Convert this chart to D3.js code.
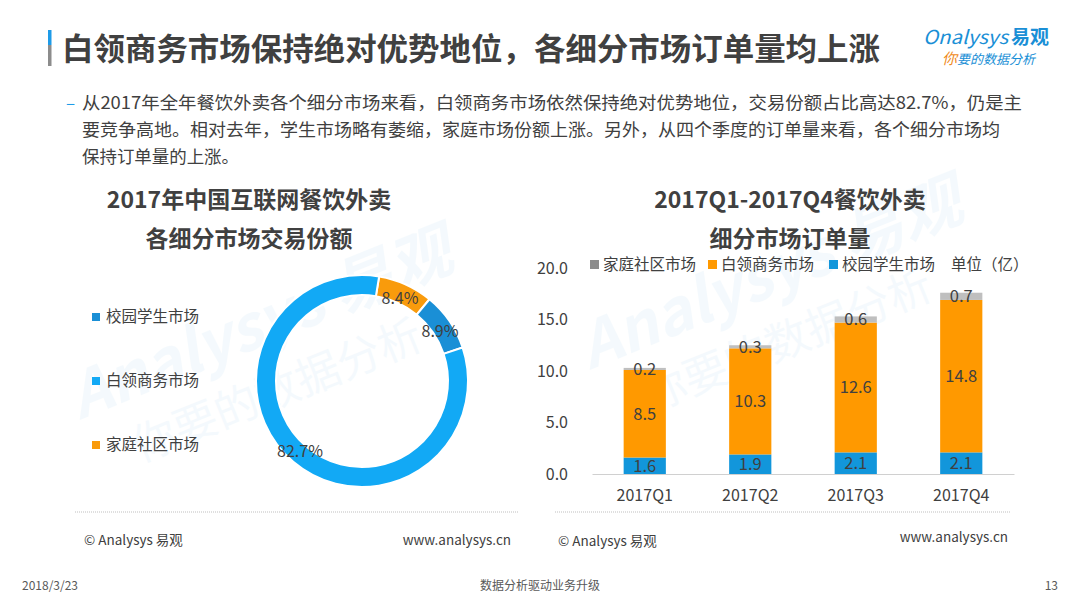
<!DOCTYPE html>
<html>
<head>
<meta charset="utf-8">
<script src="https://cdn.jsdelivr.net/npm/d3@7"></script>
<style>
  body { margin: 0; background: #fff; }
  text { font-family: "Noto Sans CJK SC", "Noto Sans", sans-serif; }
</style>
</head>
<body>
<div id="chart"></div>
<script>
// donut data, 2017 share by segment (drawn clockwise in this order)
var shareNames = ["家庭社区市场", "校园学生市场", "白领商务市场"];
var shareValues = [8.4, 8.9, 82.7];
var legendNames = ["校园学生市场", "白领商务市场", "家庭社区市场"];

// stacked bar data, orders per quarter (亿)
var quarters = ["2017Q1", "2017Q2", "2017Q3", "2017Q4"];
var campus = [1.6, 1.9, 2.1, 2.1];
var office = [8.5, 10.3, 12.6, 14.8];
var family = [0.2, 0.3, 0.6, 0.7];
var yTicks = [0, 5, 10, 15, 20];

var colors = {
  "校园学生市场": "#1a8fd6",
  "白领商务市场": "#12a9f5",
  "家庭社区市场": "#f99b0c"
};
var barColors = { campus: "#1296db", office: "#ff9900", family: "#bfbfbf" };
var textColor = "#404040";

var svg = d3.select("#chart").append("svg")
  .attr("width", 1080)
  .attr("height", 608);

// watermarks
function watermark(x, y) {
  var g = svg.append("g")
    .attr("transform", `translate(${x},${y}) rotate(-22)`)
    .attr("opacity", 0.045);
  g.append("text").attr("x", 0).attr("y", 0)
    .attr("font-size", 62).attr("font-weight", "bold").attr("font-style", "italic")
    .attr("fill", "#1a8fd6").text("Analysys 易观");
  g.append("text").attr("x", 40).attr("y", 62)
    .attr("font-size", 44).attr("fill", "#1a8fd6").text("你要的数据分析");
}
watermark(80, 420);
watermark(590, 370);

// title with the little side bar
svg.append("rect").attr("x", 48).attr("y", 30).attr("width", 3.5).attr("height", 15).attr("fill", "#1e9be8");
svg.append("rect").attr("x", 48).attr("y", 45).attr("width", 3.5).attr("height", 21).attr("fill", "#8c8c8c");
svg.append("text")
  .attr("x", 62).attr("y", 60)
  .attr("font-size", 31).attr("font-weight", "bold")
  .attr("fill", "#404040")
  .attr("textLength", 818).attr("lengthAdjust", "spacingAndGlyphs")
  .text("白领商务市场保持绝对优势地位，各细分市场订单量均上涨");

// logo
svg.append("text").attr("x", 923).attr("y", 44)
  .attr("font-size", 19).attr("font-style", "italic").attr("fill", "#1a8fd6")
  .attr("textLength", 85).attr("lengthAdjust", "spacingAndGlyphs")
  .text("Onalysys");
svg.append("text").attr("x", 1011).attr("y", 44)
  .attr("font-size", 19).attr("font-weight", "bold").attr("fill", "#1a8fd6")
  .text("易观");
var slogan = svg.append("text").attr("x", 942).attr("y", 64)
  .attr("font-size", 13).attr("font-style", "italic");
slogan.append("tspan").attr("fill", "#f08a1c").attr("font-size", 15).text("你");
slogan.append("tspan").attr("fill", "#1a8fd6").text("要的数据分析");

// paragraph
var para = [
  { t: "从2017年全年餐饮外卖各个细分市场来看，白领商务市场依然保持绝对优势地位，交易份额占比高达82.7%，仍是主", w: 940 },
  { t: "要竞争高地。相对去年，学生市场略有萎缩，家庭市场份额上涨。另外，从四个季度的订单量来看，各个细分市场均", w: 918 },
  { t: "保持订单量的上涨。", w: 157 }
];
svg.append("text").attr("x", 66).attr("y", 109)
  .attr("font-size", 17).attr("fill", "#1e9be8").text("–");
svg.selectAll(".para").data(para).enter().append("text")
  .attr("class", "para")
  .attr("x", 82)
  .attr("y", (d, i) => 109 + i * 27)
  .attr("font-size", 17.5)
  .attr("fill", textColor)
  .attr("textLength", d => d.w)
  .attr("lengthAdjust", "spacingAndGlyphs")
  .text(d => d.t);

// chart titles
function chartTitle(cx, lines) {
  lines.forEach(function(l, i) {
    svg.append("text")
      .attr("x", cx).attr("y", 208 + i * 39)
      .attr("text-anchor", "middle")
      .attr("font-size", 23).attr("font-weight", "bold")
      .attr("fill", textColor)
      .text(l);
  });
}
chartTitle(249, ["2017年中国互联网餐饮外卖", "各细分市场交易份额"]);
chartTitle(790, ["2017Q1-2017Q4餐饮外卖", "细分市场订单量"]);

// ---------- donut ----------
var donut = svg.append("g").attr("transform", "translate(362,381)");
var pie = d3.pie().sort(null).startAngle(9.3 * Math.PI / 180).endAngle(9.3 * Math.PI / 180 + 2 * Math.PI);
var arcs = pie(shareValues);
var arc = d3.arc().innerRadius(86).outerRadius(106);

donut.selectAll("path").data(arcs).enter().append("path")
  .attr("d", arc)
  .attr("fill", (d, i) => colors[shareNames[i]])
  .attr("stroke", "#fff")
  .attr("stroke-width", 2);

var labelPos = [[38, -83], [78, -50], [-62, 70]];
donut.selectAll(".plabel").data(arcs).enter().append("text")
  .attr("class", "plabel")
  .attr("x", (d, i) => labelPos[i][0])
  .attr("y", (d, i) => labelPos[i][1])
  .attr("text-anchor", "middle")
  .attr("dy", "0.35em")
  .attr("font-size", 16)
  .attr("fill", textColor)
  .text(d => d.data.toFixed(1) + "%");

var lg = svg.selectAll(".dleg").data(legendNames).enter().append("g")
  .attr("class", "dleg")
  .attr("transform", (d, i) => `translate(92,${317 + i * 64})`);
lg.append("rect").attr("x", 0).attr("y", -4).attr("width", 8).attr("height", 8)
  .attr("fill", d => colors[d]);
lg.append("text").attr("x", 14).attr("dy", "0.35em")
  .attr("font-size", 15.5).attr("fill", textColor).text(d => d);

// ---------- stacked bars ----------
var x = d3.scaleBand().domain(quarters).range([592, 1014]).paddingInner(0.6).paddingOuter(0.3);
var y = d3.scaleLinear().domain([0, 20]).range([474, 268]);

var rows = quarters.map(function(q, i) {
  return { q: q, campus: campus[i], office: office[i], family: family[i] };
});
var keys = ["campus", "office", "family"];
var series = d3.stack().keys(keys)(rows);

var bars = svg.append("g");
bars.selectAll("g").data(series).enter().append("g")
  .attr("fill", d => barColors[d.key])
  .selectAll("rect").data(d => d).enter().append("rect")
  .attr("x", d => x(d.data.q))
  .attr("width", x.bandwidth())
  .attr("y", d => y(d[1]))
  .attr("height", d => y(d[0]) - y(d[1]));

series.forEach(function(s) {
  bars.selectAll(".lbl-" + s.key).data(s).enter().append("text")
    .attr("x", d => x(d.data.q) + x.bandwidth() / 2)
    .attr("y", d => (y(d[0]) + y(d[1])) / 2)
    .attr("dy", "0.35em")
    .attr("text-anchor", "middle")
    .attr("font-size", 16.5)
    .attr("fill", textColor)
    .text(d => (d[1] - d[0]).toFixed(1));
});

// axes
var yAxis = svg.append("g").attr("transform", "translate(571,0)")
  .call(d3.axisLeft(y).tickValues(yTicks).tickFormat(d3.format(".1f")).tickSize(0));
yAxis.select(".domain").remove();
yAxis.selectAll("text").attr("font-size", 16).attr("fill", textColor)
  .style("font-family", "'Noto Sans CJK SC', sans-serif");

var xAxis = svg.append("g").attr("transform", "translate(0,474)")
  .call(d3.axisBottom(x).tickSize(0).tickPadding(16));
xAxis.select(".domain").attr("stroke", "#d0d0d0");
xAxis.selectAll("text").attr("font-size", 16).attr("fill", textColor)
  .style("font-family", "'Noto Sans CJK SC', sans-serif");

// bar legend
var barLegend = [
  { k: "family", name: "家庭社区市场", x: 590, c: "#8c8c8c" },
  { k: "office", name: "白领商务市场", x: 708, c: barColors.office },
  { k: "campus", name: "校园学生市场", x: 829, c: barColors.campus }
];
var bl = svg.selectAll(".bleg").data(barLegend).enter().append("g")
  .attr("transform", d => `translate(${d.x},265)`);
bl.append("rect").attr("x", 0).attr("y", -5).attr("width", 9).attr("height", 9).attr("fill", d => d.c);
bl.append("text").attr("x", 13).attr("dy", "0.35em").attr("font-size", 15.5)
  .attr("fill", textColor).text(d => d.name);
svg.append("text").attr("x", 951).attr("y", 265).attr("dy", "0.35em")
  .attr("font-size", 15.5).attr("fill", textColor).text("单位（亿）");

// footers
[[75, 518], [555, 1010]].forEach(function(r) {
  svg.append("line").attr("x1", r[0]).attr("x2", r[1]).attr("y1", 512).attr("y2", 512)
    .attr("stroke", "#bfbfbf").attr("stroke-dasharray", "1,1");
});
svg.append("text").attr("x", 84).attr("y", 545).attr("font-size", 13.5).attr("fill", textColor).text("© Analysys 易观");
svg.append("text").attr("x", 511).attr("y", 545).attr("text-anchor", "end").attr("font-size", 13.5).attr("fill", textColor).text("www.analysys.cn");
svg.append("text").attr("x", 558).attr("y", 546).attr("font-size", 13.5).attr("fill", textColor).text("© Analysys 易观");
svg.append("text").attr("x", 1008).attr("y", 542).attr("text-anchor", "end").attr("font-size", 13.5).attr("fill", textColor).text("www.analysys.cn");

svg.append("text").attr("x", 22).attr("y", 590).attr("font-size", 12).attr("fill", "#595959").text("2018/3/23");
svg.append("text").attr("x", 540).attr("y", 590).attr("text-anchor", "middle").attr("font-size", 12).attr("fill", "#595959").text("数据分析驱动业务升级");
svg.append("text").attr("x", 1058).attr("y", 590).attr("text-anchor", "end").attr("font-size", 12).attr("fill", "#595959").text("13");
</script>
</body>
</html>
